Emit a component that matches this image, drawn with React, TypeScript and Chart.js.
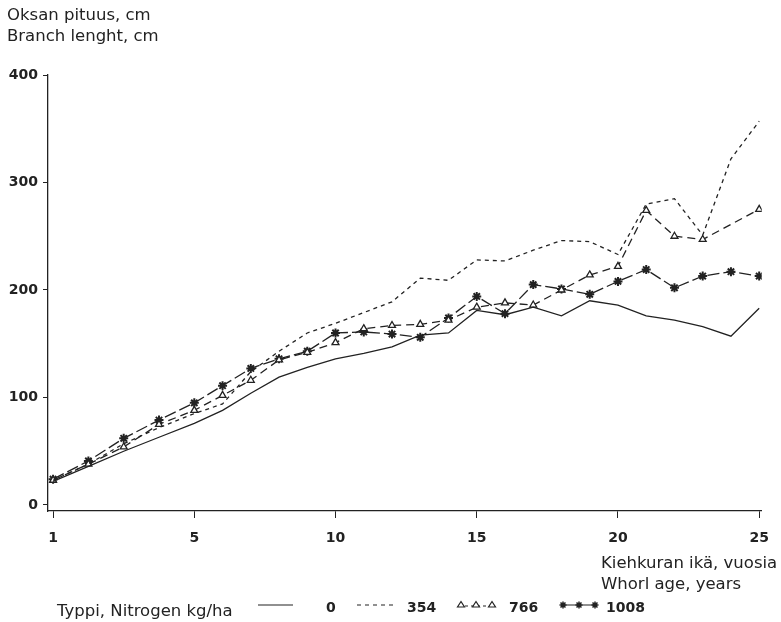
import React, { useEffect, useRef } from "react";
import { Chart, registerables } from "chart.js";

Chart.register(...registerables);

// Whorl ages 1..25; the original figure draws ages 1-5 stretched (age 1 sits at the origin)
const ages = [1, 2, 3, 4, 5, 6, 7, 8, 9, 10, 11, 12, 13, 14, 15, 16, 17, 18, 19, 20, 21, 22, 23, 24, 25];
const agePositions = [0, 1.25, 2.5, 3.75, 5, 6, 7, 8, 9, 10, 11, 12, 13, 14, 15, 16, 17, 18, 19, 20, 21, 22, 23, 24, 25];

const n0 = [22, 36, 50, 63, 76, 88, 104, 119, 128, 136, 141, 147, 158, 160, 181, 177, 184, 176, 190, 186, 176, 172, 166, 157, 183];
const n354 = [23, 38, 57, 72, 85, 94, 124, 143, 160, 169, 179, 189, 211, 209, 228, 227, 237, 246, 245, 233, 280, 285, 251, 322, 357];
const n766 = [23, 38, 54, 75, 88, 102, 116, 135, 142, 151, 164, 167, 168, 172, 184, 188, 186, 200, 214, 222, 274, 250, 247, 261, 275];
const n1008 = [24, 41, 62, 79, 95, 111, 127, 136, 143, 160, 161, 159, 156, 174, 194, 178, 205, 201, 196, 208, 219, 202, 213, 217, 213];

const xTickPositions = [0, 5, 10, 15, 20, 25];
const xTickLabels = ["1", "5", "10", "15", "20", "25"];
const yTickValues = [0, 100, 200, 300, 400];

const yTitle = ["Oksan pituus, cm", "Branch lenght, cm"];
const xTitle = ["Kiehkuran ikä, vuosia", "Whorl age, years"];
const legendTitle = "Typpi, Nitrogen kg/ha";
const seriesNames = ["0", "354", "766", "1008"];

const INK = "#222";
const FONT = "DejaVu Sans";

const toPts = (vals: number[]) => vals.map((v, i) => ({ x: agePositions[i], y: v }));

const overlayPlugin = {
  id: "overlayText",
  afterDraw(chart: any) {
    const ctx = chart.ctx as CanvasRenderingContext2D;
    ctx.save();
    ctx.fillStyle = INK;
    ctx.strokeStyle = INK;
    ctx.textBaseline = "alphabetic";
    ctx.textAlign = "left";
    ctx.font = `16.5px "${FONT}"`;
    ctx.fillText(yTitle[0], 7, 20);
    ctx.fillText(yTitle[1], 7, 41);
    ctx.fillText(xTitle[0], 601, 568);
    ctx.fillText(xTitle[1], 601, 589);

    // legend
    const ly = 612;
    ctx.fillText(legendTitle, 57, ly + 4);
    ctx.font = `bold 14px "${FONT}"`;
    const lineY = 605;
    ctx.lineWidth = 1.2;
    // solid
    ctx.setLineDash([]);
    ctx.beginPath();
    ctx.moveTo(258, lineY);
    ctx.lineTo(293, lineY);
    ctx.stroke();
    ctx.fillText(seriesNames[0], 326, ly);
    // short dash
    ctx.setLineDash([4, 4]);
    ctx.beginPath();
    ctx.moveTo(357, lineY);
    ctx.lineTo(395, lineY);
    ctx.stroke();
    ctx.setLineDash([]);
    ctx.fillText(seriesNames[1], 407, ly);
    // triangles
    ctx.beginPath();
    ctx.moveTo(459, lineY + 1);
    ctx.lineTo(495, lineY + 1);
    ctx.setLineDash([3, 3]);
    ctx.stroke();
    ctx.setLineDash([]);
    [461, 476, 492].forEach((x) => {
      ctx.beginPath();
      ctx.moveTo(x, lineY - 3.5);
      ctx.lineTo(x + 3.5, lineY + 2);
      ctx.lineTo(x - 3.5, lineY + 2);
      ctx.closePath();
      ctx.fillStyle = "#fff";
      ctx.fill();
      ctx.stroke();
    });
    ctx.fillStyle = INK;
    ctx.fillText(seriesNames[2], 509, ly);
    // stars
    ctx.beginPath();
    ctx.moveTo(561, lineY);
    ctx.lineTo(597, lineY);
    ctx.stroke();
    ctx.lineWidth = 1.5;
    [563, 579, 595].forEach((x) => {
      ctx.beginPath();
      for (let k = 0; k < 4; k++) {
        const a = (Math.PI / 4) * k;
        ctx.moveTo(x - 3.5 * Math.cos(a), lineY - 3.5 * Math.sin(a));
        ctx.lineTo(x + 3.5 * Math.cos(a), lineY + 3.5 * Math.sin(a));
      }
      ctx.stroke();
    });
    ctx.fillText(seriesNames[3], 606, ly);
    ctx.restore();
  },
};

export default function App() {
  const ref = useRef<HTMLCanvasElement | null>(null);

  useEffect(() => {
    if (!ref.current) return;
    const commonLine = {
      borderColor: INK,
      borderWidth: 1.3,
      fill: false,
      tension: 0,
    };
    const chart = new Chart(ref.current, {
      type: "line",
      data: {
        datasets: [
          { ...commonLine, label: seriesNames[0], data: toPts(n0), pointRadius: 0 },
          { ...commonLine, label: seriesNames[1], data: toPts(n354), pointRadius: 0, borderDash: [4, 4] },
          {
            ...commonLine,
            label: seriesNames[2],
            data: toPts(n766),
            borderDash: [8, 5],
            pointStyle: "triangle",
            pointRadius: ages.map((a) => (a === 24 ? 0 : 4)),
            pointBackgroundColor: "#fff",
            pointBorderColor: INK,
            pointBorderWidth: 1.3,
          },
          {
            ...commonLine,
            label: seriesNames[3],
            data: toPts(n1008),
            borderDash: [12, 4],
            pointStyle: "star",
            pointRadius: 4.5,
            pointBorderColor: INK,
            pointBorderWidth: 2,
          },
        ],
      },
      options: {
        animation: false,
        responsive: false,
        layout: { padding: { top: 75, right: 19, left: 0, bottom: 0 } },
        plugins: { legend: { display: false }, tooltip: { enabled: false }, title: { display: false } },
        elements: { line: { borderCapStyle: "butt" } },
        scales: {
          x: {
            type: "linear",
            min: -0.18,
            max: 25.09,
            afterFit: (s: any) => {
              s.height = 111;
            },
            afterBuildTicks: (s: any) => {
              s.ticks = xTickPositions.map((v) => ({ value: v }));
            },
            ticks: {
              callback: (v: any) => xTickLabels[xTickPositions.indexOf(Number(v))] ?? "",
              color: INK,
              font: { family: FONT, size: 14, weight: "bold" },
              padding: 12,
              maxRotation: 0,
              autoSkip: false,
            },
            grid: { drawOnChartArea: false, drawTicks: true, tickLength: 7, color: INK, lineWidth: 1 },
            border: { display: true, color: INK, width: 1.3 },
          },
          y: {
            type: "linear",
            min: -5.6,
            max: 400,
            afterFit: (s: any) => {
              s.width = 48;
            },
            afterBuildTicks: (s: any) => {
              s.ticks = yTickValues.map((v) => ({ value: v }));
            },
            ticks: {
              color: INK,
              font: { family: FONT, size: 14, weight: "bold" },
              padding: 5,
            },
            grid: { drawOnChartArea: false, drawTicks: true, tickLength: 5, color: INK, lineWidth: 1 },
            border: { display: true, color: INK, width: 1.3 },
          },
        },
      },
      plugins: [overlayPlugin],
    } as any);
    return () => chart.destroy();
  }, []);

  return (
    <div style={{ position: "fixed", left: 0, top: 0, width: 781, height: 622, background: "#fff" }}>
      <canvas ref={ref} width={781} height={622} style={{ display: "block", width: 781, height: 622 }} />
    </div>
  );
}
